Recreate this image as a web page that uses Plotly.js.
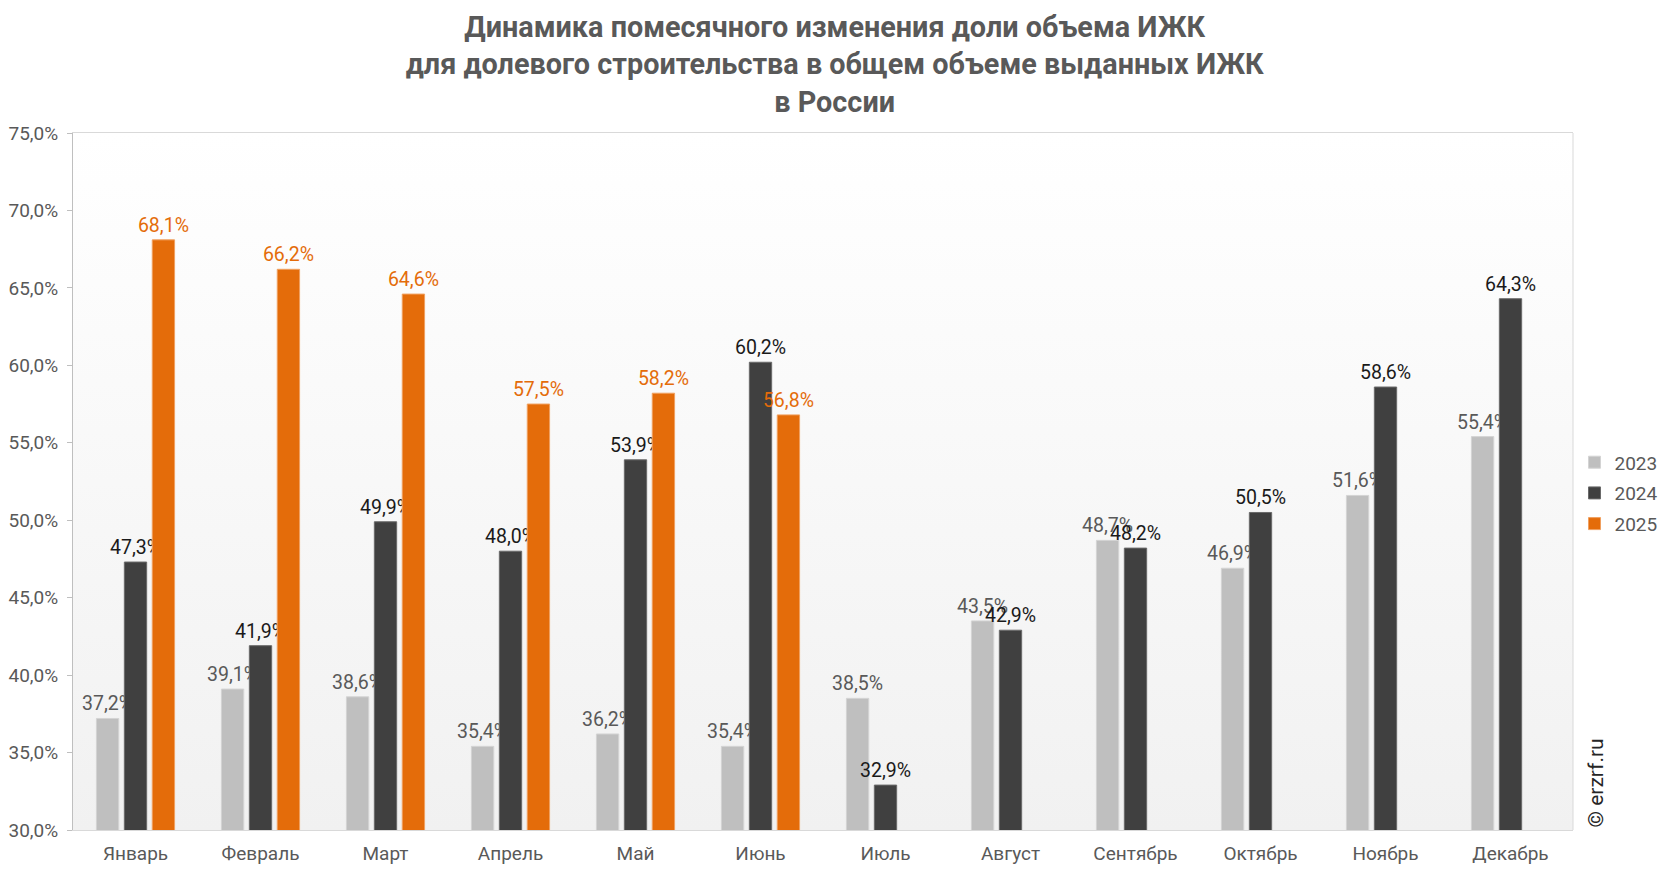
<!DOCTYPE html>
<html>
<head>
<meta charset="utf-8">
<script src="https://cdn.plot.ly/plotly-3.0.1.min.js"></script>
<style>
  html, body { margin: 0; padding: 0; background: #fff; }
  #chart { width: 1666px; height: 872px; }
</style>
</head>
<body>
<div id="chart"></div>
<script>
const months = ['Январь', 'Февраль', 'Март', 'Апрель', 'Май', 'Июнь',
                'Июль', 'Август', 'Сентябрь', 'Октябрь', 'Ноябрь', 'Декабрь'];
const share2023 = [37.2, 39.1, 38.6, 35.4, 36.2, 35.4, 38.5, 43.5, 48.7, 46.9, 51.6, 55.4];
const share2024 = [47.3, 41.9, 49.9, 48.0, 53.9, 60.2, 32.9, 42.9, 48.2, 50.5, 58.6, 64.3];
const share2025 = [68.1, 66.2, 64.6, 57.5, 58.2, 56.8, null, null, null, null, null, null];

const fontFamily = 'Roboto, "Noto Sans", sans-serif';

// vertical white -> light grey background of the plot area
const bgSvg = '<svg xmlns="http://www.w3.org/2000/svg" width="10" height="100" preserveAspectRatio="none">' +
    '<defs><linearGradient id="g" x1="0" y1="0" x2="0" y2="1">' +
    '<stop offset="0" stop-color="#ffffff"/><stop offset="1" stop-color="#f1f1f1"/>' +
    '</linearGradient></defs><rect width="10" height="100" fill="url(#g)"/></svg>';
const bgImage = 'data:image/svg+xml;utf8,' + encodeURIComponent(bgSvg);

const makeSeries = (name, values, color, textColor, lineColor) => ({
    type: 'bar',
    name: name,
    legendgroup: name,
    x: months,
    y: values,
    marker: { color: color, line: { color: lineColor, width: 1 } },
    texttemplate: '%{y:.1f}%',
    textposition: 'outside',
    textfont: { family: fontFamily, size: 19.5, color: textColor },
    cliponaxis: false,
    constraintext: 'none',
    hoverinfo: 'skip'
});

const data = [
    makeSeries('2023', share2023, '#bfbfbf', '#595959', '#d4d4d4'),
    makeSeries('2024', share2024, '#404040', '#1a1a1a', '#6a6a6a'),
    makeSeries('2025', share2025, '#e46c0a', '#e46c0a', '#f0a060')
];

const layout = {
    width: 1666,
    height: 872,
    margin: { l: 73, r: 93, t: 133, b: 42, autoexpand: false },
    paper_bgcolor: '#ffffff',
    plot_bgcolor: 'rgba(0,0,0,0)',
    font: { family: fontFamily, size: 19, color: '#595959' },
    separators: ', ',
    title: {
        text: '<b>Динамика помесячного изменения доли объема ИЖК<br>' +
              'для долевого строительства в общем объеме выданных ИЖК<br>в России</b>',
        font: { family: fontFamily, size: 28.8, color: '#595959' },
        xref: 'container', x: 0.501, xanchor: 'center',
        yref: 'container', y: 0.958, yanchor: 'top'
    },
    barmode: 'group',
    bargap: 0.33,
    bargroupgap: 0.2,
    xaxis: {
        type: 'category',
        showline: true,
        linecolor: '#d9d9d9',
        linewidth: 1,
        mirror: true,
        ticks: '',
        ticklabelstandoff: 6,
        tickfont: { family: fontFamily, size: 19, color: '#595959' },
        showgrid: false,
        zeroline: false
    },
    yaxis: {
        range: [30, 75],
        dtick: 5,
        tickformat: '.1f',
        ticksuffix: '%',
        showline: true,
        linecolor: '#bfbfbf',
        linewidth: 1,
        ticks: 'outside',
        ticklen: 5,
        tickcolor: '#bfbfbf',
        ticklabelstandoff: 5,
        showgrid: false,
        zeroline: false,
        tickfont: { family: fontFamily, size: 19, color: '#595959' }
    },
    legend: {
        x: 1.001, xanchor: 'left',
        y: 0.483, yanchor: 'middle',
        font: { family: fontFamily, size: 19, color: '#595959' },
        itemwidth: 30,
        tracegroupgap: 3,
        bgcolor: 'rgba(0,0,0,0)'
    },
    images: [{
        source: bgImage,
        xref: 'paper', yref: 'paper',
        x: 0, y: 1, sizex: 1, sizey: 1,
        sizing: 'stretch', layer: 'below',
        xanchor: 'left', yanchor: 'top'
    }],
    shapes: [{
        type: 'line', xref: 'paper', yref: 'paper',
        x0: 1, x1: 1, y0: 0, y1: 1,
        line: { color: '#d9d9d9', width: 1 }
    }],
    annotations: [{
        text: '© erzrf.ru',
        xref: 'paper', yref: 'paper',
        x: 1.0147, y: 0.0, xanchor: 'center', yanchor: 'bottom',
        textangle: -90,
        showarrow: false,
        font: { family: fontFamily, size: 21, color: '#262626' }
    }],
    showlegend: true
};

Plotly.newPlot('chart', data, layout, { displayModeBar: false, staticPlot: true });
</script>
</body>
</html>
